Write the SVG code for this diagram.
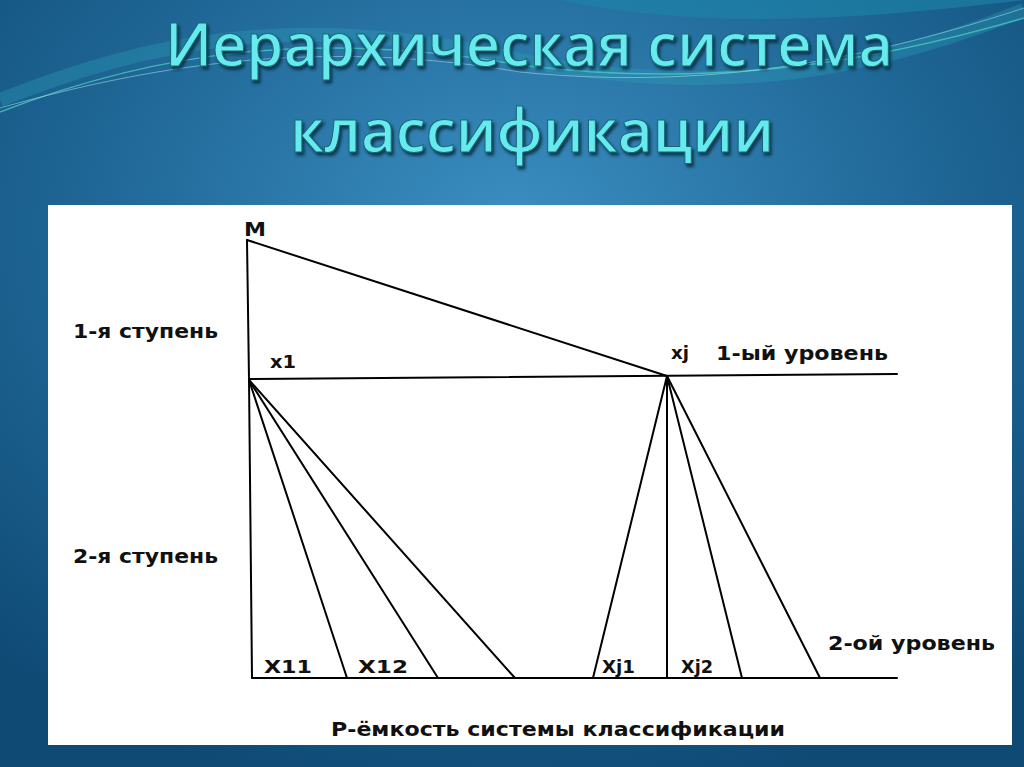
<svg xmlns="http://www.w3.org/2000/svg" width="1024" height="767" viewBox="0 0 1024 767">
<defs>
<radialGradient id="bg" cx="0.5" cy="0.3" r="0.75">
<stop offset="0" stop-color="#3b8fc2"/>
<stop offset="0.55" stop-color="#1f6796"/>
<stop offset="1" stop-color="#0f4a75"/>
</radialGradient>
<filter id="sh" x="-5%" y="-20%" width="110%" height="140%">
<feGaussianBlur in="SourceAlpha" stdDeviation="1.5"/>
<feOffset dx="2" dy="3" result="b"/>
<feFlood flood-color="#0a2a3a" flood-opacity="0.85"/>
<feComposite in2="b" operator="in"/>
<feMerge><feMergeNode/><feMergeNode in="SourceGraphic"/></feMerge>
</filter>
<style>
.title{font-family:"Open Sans","Noto Sans","DejaVu Sans",sans-serif;font-weight:600;font-size:60px;fill:#66eaee;stroke:#176878;stroke-width:1;}
.lbl{font-family:"DejaVu Sans","Noto Sans",sans-serif;font-weight:bold;font-size:20px;fill:#111;}
.sm{font-family:"DejaVu Sans","Noto Sans",sans-serif;font-weight:bold;font-size:17px;fill:#111;}
.ln{stroke:#000;stroke-width:2;fill:none;stroke-linecap:round;}
</style>
</defs>
<rect width="1024" height="767" fill="url(#bg)"/>
<g id="waves" fill="none">
<path d="M0 100 C150 40 300 10 520 60 C700 95 850 80 1024 10" stroke="#2aa0b8" stroke-width="14" opacity="0.35"/>
<path d="M0 112 C160 50 320 30 520 65 C720 90 880 60 1024 18" stroke="#48c8c0" stroke-width="1.5" opacity="0.8"/>
<path d="M0 108 C170 60 330 40 520 72 C720 92 880 55 1024 8" stroke="#9adce8" stroke-width="1" opacity="0.6"/>
<path d="M560 0 C700 30 860 20 1024 0 L1024 0 Z" fill="#1d86a8" opacity="0.6"/>
</g>
<g id="title" filter="url(#sh)">
<text class="title" x="529" y="66" text-anchor="middle" textLength="728" lengthAdjust="spacingAndGlyphs">Иерархическая система</text>
<text class="title" x="532" y="152" text-anchor="middle" textLength="484" lengthAdjust="spacingAndGlyphs">классификации</text>
</g>
<rect id="panel" x="48" y="205" width="964" height="540" fill="#ffffff"/>
<g id="connectors" class="ln">
<line x1="247" y1="240" x2="249" y2="379"/>
<line x1="249" y1="379" x2="252" y2="678"/>
<line x1="247" y1="240" x2="667" y2="376"/>
<line x1="249" y1="379" x2="897" y2="374"/>
<line x1="252" y1="678" x2="897" y2="678"/>
<line x1="249" y1="380" x2="347" y2="678"/>
<line x1="249" y1="380" x2="438" y2="678"/>
<line x1="249" y1="380" x2="515" y2="678"/>
<line x1="667" y1="376" x2="593" y2="678"/>
<line x1="667" y1="376" x2="667" y2="678"/>
<line x1="667" y1="376" x2="742" y2="678"/>
<line x1="667" y1="376" x2="820" y2="678"/>
</g>
<g id="node-M"><text class="lbl" x="244" y="236" textLength="22" lengthAdjust="spacingAndGlyphs">M</text></g>
<g id="node-x1"><text class="sm" x="270" y="368" textLength="26" lengthAdjust="spacingAndGlyphs">x1</text></g>
<g id="node-xj"><text class="sm" x="671" y="359" textLength="18" lengthAdjust="spacingAndGlyphs">xj</text></g>
<g id="label-level1"><text class="lbl" x="716" y="360" textLength="172" lengthAdjust="spacingAndGlyphs">1-ый уровень</text></g>
<g id="label-step1"><text class="lbl" x="73" y="338" textLength="145" lengthAdjust="spacingAndGlyphs">1-я ступень</text></g>
<g id="label-step2"><text class="lbl" x="73" y="563" textLength="145" lengthAdjust="spacingAndGlyphs">2-я ступень</text></g>
<g id="label-level2"><text class="lbl" x="828" y="650" textLength="167" lengthAdjust="spacingAndGlyphs">2-ой уровень</text></g>
<g id="node-x11"><text class="sm" x="264" y="673" textLength="48" lengthAdjust="spacingAndGlyphs">X11</text></g>
<g id="node-x12"><text class="sm" x="358" y="673" textLength="50" lengthAdjust="spacingAndGlyphs">X12</text></g>
<g id="node-xj1"><text class="sm" x="602" y="673" textLength="33" lengthAdjust="spacingAndGlyphs">Xj1</text></g>
<g id="node-xj2"><text class="sm" x="681" y="673" textLength="32" lengthAdjust="spacingAndGlyphs">Xj2</text></g>
<g id="caption"><text class="lbl" x="331" y="736" textLength="454" lengthAdjust="spacingAndGlyphs">Р-ёмкость системы классификации</text></g>
</svg>
